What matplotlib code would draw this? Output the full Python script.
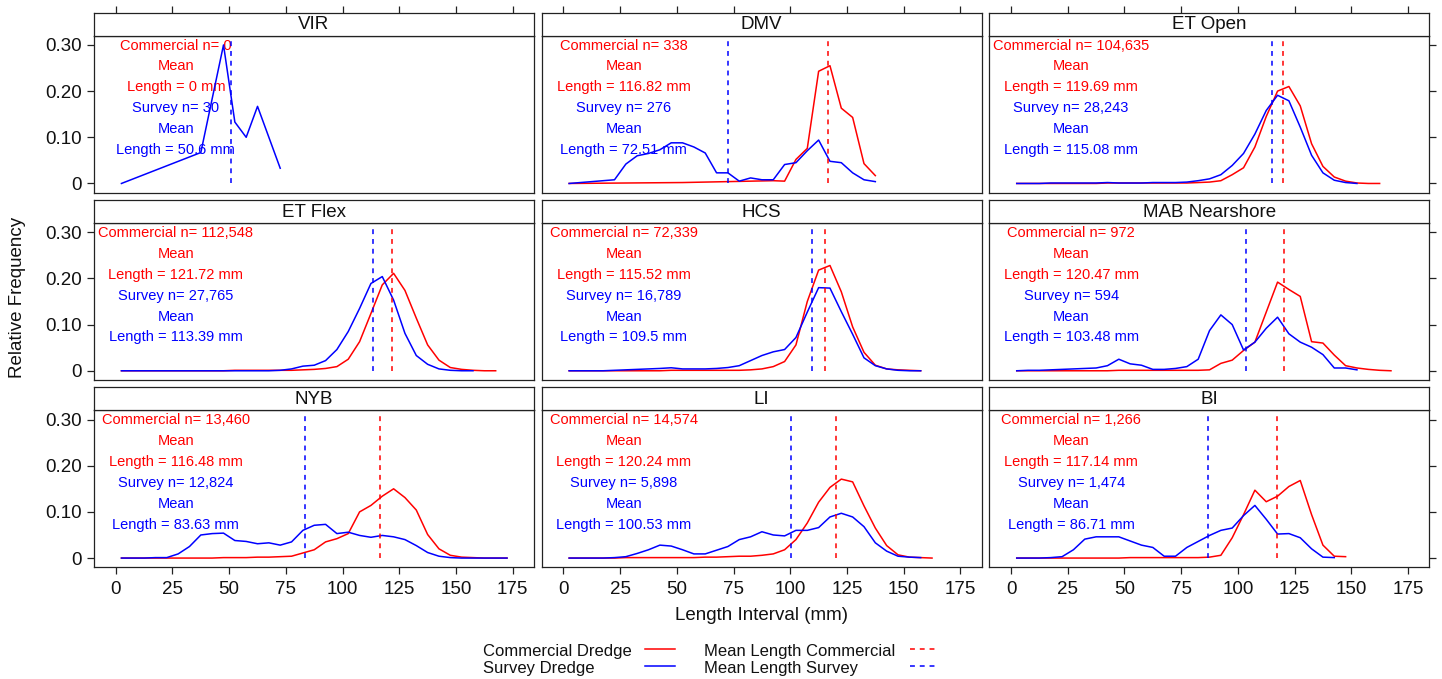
import matplotlib
matplotlib.use("Agg")
import matplotlib.pyplot as plt
from matplotlib.lines import Line2D

plt.rcParams['font.family'] = ['Liberation Sans', 'DejaVu Sans']

# ---- data ----
regions = ["VIR", "DMV", "ET Open", "ET Flex", "HCS", "MAB Nearshore", "NYB", "LI", "BI"]
comm_n = ["0", "338", "104,635", "112,548", "72,339", "972", "13,460", "14,574", "1,266"]
comm_mean = [0, 116.82, 119.69, 121.72, 115.52, 120.47, 116.48, 120.24, 117.14]
comm_mean_txt = ["0", "116.82", "119.69", "121.72", "115.52", "120.47", "116.48", "120.24", "117.14"]
surv_n = ["30", "276", "28,243", "27,765", "16,789", "594", "12,824", "5,898", "1,474"]
surv_mean = [50.6, 72.51, 115.08, 113.39, 109.5, 103.48, 83.63, 100.53, 86.71]
surv_mean_txt = ["50.6", "72.51", "115.08", "113.39", "109.5", "103.48", "83.63", "100.53", "86.71"]

# 5 mm bin midpoints
bins = [2.5, 7.5, 12.5, 17.5, 22.5, 27.5, 32.5, 37.5, 42.5, 47.5, 52.5, 57.5,
        62.5, 67.5, 72.5, 77.5, 82.5, 87.5, 92.5, 97.5, 102.5, 107.5, 112.5,
        117.5, 122.5, 127.5, 132.5, 137.5, 142.5, 147.5, 152.5, 157.5, 162.5,
        167.5, 172.5]

vir_comm_len = []
vir_comm_freq = []
vir_surv_len = [2.5, 37.5, 47.5, 52.5, 57.5, 62.5, 72.5]
vir_surv_freq = [0.0, 0.067, 0.300, 0.133, 0.100, 0.167, 0.033]

dmv_comm_len = [2.5, 52.5, 92.5, 97.5, 102.5, 107.5, 112.5, 117.5, 122.5, 127.5, 132.5, 137.5]
dmv_comm_freq = [0.0, 0.002, 0.006, 0.005, 0.052, 0.076, 0.243, 0.255, 0.163, 0.143, 0.043, 0.017]
dmv_surv_len = [2.5, 22.5, 27.5, 32.5, 37.5, 42.5, 47.5, 52.5, 57.5, 62.5, 67.5, 72.5, 77.5,
                82.5, 87.5, 92.5, 97.5, 102.5, 107.5, 112.5, 117.5, 122.5, 127.5, 132.5, 137.5]
dmv_surv_freq = [0.0, 0.008, 0.042, 0.060, 0.065, 0.073, 0.088, 0.088, 0.079, 0.066, 0.023, 0.023,
                 0.005, 0.012, 0.008, 0.008, 0.041, 0.045, 0.071, 0.094, 0.048, 0.045, 0.023,
                 0.008, 0.004]

eto_comm_freq = [0, 0, 0, 0, 0, 0, 0, 0, 0.001, 0.001, 0.001, 0.001, 0.001, 0.001, 0.001,
                 0.001, 0.002, 0.003, 0.006, 0.019, 0.034, 0.079, 0.145, 0.200, 0.210, 0.168,
                 0.086, 0.037, 0.014, 0.005, 0.001, 0.0, 0.0]
eto_surv_freq = [0, 0, 0, 0.001, 0.001, 0.001, 0.001, 0.001, 0.002, 0.001, 0.001, 0.001,
                 0.002, 0.002, 0.002, 0.003, 0.006, 0.010, 0.019, 0.039, 0.065, 0.107, 0.158,
                 0.191, 0.179, 0.122, 0.061, 0.023, 0.007, 0.002, 0.0]

etf_comm_freq = [0, 0, 0, 0, 0, 0, 0, 0, 0, 0, 0.001, 0.001, 0.001, 0.001, 0.001, 0.001,
                 0.002, 0.003, 0.005, 0.009, 0.025, 0.063, 0.124, 0.186, 0.211, 0.174, 0.114,
                 0.056, 0.023, 0.007, 0.003, 0.001, 0.0, 0.0]
etf_surv_freq = [0, 0, 0, 0, 0, 0, 0, 0, 0, 0, 0, 0, 0, 0, 0.001, 0.004, 0.010, 0.012, 0.022,
                 0.046, 0.085, 0.135, 0.189, 0.204, 0.153, 0.081, 0.033, 0.014, 0.004, 0.001,
                 0.0, 0.0]

hcs_comm_freq = [0, 0, 0, 0, 0, 0, 0, 0, 0, 0.001, 0.001, 0.001, 0.001, 0.001, 0.001, 0.001,
                 0.002, 0.004, 0.009, 0.020, 0.056, 0.150, 0.218, 0.228, 0.171, 0.095, 0.040,
                 0.012, 0.004, 0.002, 0.001, 0.0]
hcs_surv_freq = [0, 0, 0, 0, 0.001, 0.002, 0.003, 0.004, 0.005, 0.0065, 0.004, 0.004, 0.004,
                 0.005, 0.007, 0.011, 0.022, 0.033, 0.041, 0.046, 0.072, 0.127, 0.180, 0.179,
                 0.128, 0.079, 0.028, 0.011, 0.004, 0.001, 0.0, 0.0]

mab_comm_freq = [0, 0, 0, 0, 0, 0, 0, 0, 0, 0.001, 0.001, 0.001, 0.001, 0.001, 0.001, 0.001,
                 0.001, 0.002, 0.016, 0.023, 0.044, 0.062, 0.127, 0.192, 0.176, 0.161, 0.063,
                 0.060, 0.034, 0.011, 0.006, 0.003, 0.001, 0.0]
mab_surv_freq = [0, 0.001, 0.001, 0.002, 0.003, 0.004, 0.005, 0.006, 0.011, 0.025, 0.015,
                 0.012, 0.003, 0.003, 0.005, 0.009, 0.025, 0.087, 0.121, 0.100, 0.045, 0.062,
                 0.092, 0.116, 0.080, 0.062, 0.051, 0.035, 0.006, 0.006, 0.002]

nyb_comm_freq = [0, 0, 0, 0, 0, 0, 0, 0, 0, 0.001, 0.001, 0.001, 0.002, 0.002, 0.003, 0.004,
                 0.011, 0.018, 0.035, 0.042, 0.053, 0.100, 0.114, 0.134, 0.150, 0.131, 0.104,
                 0.051, 0.020, 0.006, 0.002, 0.001, 0.0, 0.0, 0.0]
nyb_surv_freq = [0, 0, 0, 0.001, 0.001, 0.009, 0.025, 0.050, 0.053, 0.054, 0.038, 0.036,
                 0.031, 0.033, 0.028, 0.035, 0.060, 0.071, 0.073, 0.053, 0.056, 0.049, 0.045,
                 0.049, 0.046, 0.040, 0.027, 0.012, 0.004, 0.001, 0.0, 0.0, 0.0, 0.0, 0.0]

li_comm_freq = [0, 0, 0, 0, 0, 0.001, 0.001, 0.001, 0.001, 0.001, 0.001, 0.001, 0.002, 0.002,
                0.003, 0.004, 0.004, 0.006, 0.009, 0.018, 0.040, 0.076, 0.121, 0.153, 0.171,
                0.165, 0.113, 0.065, 0.027, 0.007, 0.002, 0.001, 0.0]
li_surv_freq = [0, 0, 0, 0, 0.001, 0.003, 0.010, 0.018, 0.028, 0.026, 0.018, 0.009, 0.009,
                0.017, 0.025, 0.040, 0.046, 0.057, 0.050, 0.048, 0.060, 0.060, 0.066, 0.089,
                0.097, 0.089, 0.068, 0.033, 0.015, 0.004, 0.002, 0.001]

bi_comm_freq = [0, 0, 0, 0, 0, 0, 0, 0, 0, 0, 0.001, 0.001, 0.001, 0.001, 0.001, 0.001, 0.001,
                0.002, 0.006, 0.044, 0.094, 0.147, 0.122, 0.134, 0.155, 0.168, 0.094, 0.028,
                0.004, 0.003]
bi_surv_freq = [0, 0, 0, 0.001, 0.003, 0.018, 0.041, 0.046, 0.046, 0.046, 0.037, 0.028, 0.023,
                0.004, 0.004, 0.023, 0.036, 0.049, 0.060, 0.065, 0.092, 0.114, 0.084, 0.052,
                0.053, 0.044, 0.020, 0.002, 0.001]

comm_series = [
    (vir_comm_len, vir_comm_freq),
    (dmv_comm_len, dmv_comm_freq),
    (bins[:len(eto_comm_freq)], eto_comm_freq),
    (bins[:len(etf_comm_freq)], etf_comm_freq),
    (bins[:len(hcs_comm_freq)], hcs_comm_freq),
    (bins[:len(mab_comm_freq)], mab_comm_freq),
    (bins[:len(nyb_comm_freq)], nyb_comm_freq),
    (bins[:len(li_comm_freq)], li_comm_freq),
    (bins[:len(bi_comm_freq)], bi_comm_freq),
]
surv_series = [
    (vir_surv_len, vir_surv_freq),
    (dmv_surv_len, dmv_surv_freq),
    (bins[:len(eto_surv_freq)], eto_surv_freq),
    (bins[:len(etf_surv_freq)], etf_surv_freq),
    (bins[:len(hcs_surv_freq)], hcs_surv_freq),
    (bins[:len(mab_surv_freq)], mab_surv_freq),
    (bins[:len(nyb_surv_freq)], nyb_surv_freq),
    (bins[:len(li_surv_freq)], li_surv_freq),
    (bins[:len(bi_surv_freq)], bi_surv_freq),
]

xticks = [0, 25, 50, 75, 100, 125, 150, 175]
yticks = [0, 0.1, 0.2, 0.3]
ytick_labels = ["0", "0.10", "0.20", "0.30"]

# ---- layout (pixels) ----
W, H = 1442, 679
fig = plt.figure(figsize=(W / 100, H / 100), dpi=100)

col_left = [94, 541.7, 989.3]
col_w = 440
row_top = [12.7, 200, 387.3]
strip_h = 23
panel_h = 157

RED = "#FF0000"
BLUE = "#0000FF"
dash = (0, (3.2, 3.2))


def box(left, top, w, h):
    return [left / W, 1 - (top + h) / H, w / W, h / H]


for i, name in enumerate(regions):
    r, c = divmod(i, 3)
    ax = fig.add_axes(box(col_left[c], row_top[r] + strip_h, col_w, panel_h))
    st = fig.add_axes(box(col_left[c], row_top[r], col_w, strip_h))

    for a in (ax, st):
        a.set_xlim(-9.6, 184.4)
        for s in a.spines.values():
            s.set_linewidth(0.9)
            s.set_color("#222222")

    # strip
    st.set_ylim(0, 1)
    st.set_yticks([])
    st.text(0.5, 0.47, name, transform=st.transAxes, ha="center", va="center",
            fontsize=13.5, color="#111111")
    if r == 0:
        st.set_xticks(xticks)
        st.xaxis.tick_top()
        st.tick_params(axis="x", direction="out", length=5, width=0.9,
                       labeltop=False, color="#222222")
    else:
        st.set_xticks([])

    # curves
    cx, cy = comm_series[i]
    sx, sy = surv_series[i]
    if len(cx) > 0:
        ax.plot(cx, cy, color=RED, lw=1.1, zorder=3)
    ax.plot(sx, sy, color=BLUE, lw=1.1, zorder=3)
    if len(cx) > 0:
        ax.plot([comm_mean[i], comm_mean[i]], [0, 0.311], color=RED, lw=1.1, ls=dash, zorder=3)
    ax.plot([surv_mean[i], surv_mean[i]], [0, 0.311], color=BLUE, lw=1.1, ls=dash, zorder=3)

    # annotations
    lines = [("Commercial n= " + comm_n[i], RED), ("Mean", RED),
             ("Length = " + comm_mean_txt[i] + " mm", RED),
             ("Survey n= " + surv_n[i], BLUE), ("Mean", BLUE),
             ("Length = " + surv_mean_txt[i] + " mm", BLUE)]
    for k, (txt, col) in enumerate(lines):
        ax.text(26.5, 0.290 - 0.0453 * k, txt, color=col, fontsize=10.5,
                ha="center", va="baseline", zorder=2)

    ax.set_ylim(-0.02, 0.32)
    ax.set_xticks(xticks if r == 2 else [])
    ax.tick_params(axis="x", direction="out", length=5, width=0.9, labelsize=13.5,
                   pad=5, color="#222222", labelcolor="#111111")
    if c == 0:
        ax.set_yticks(yticks)
        ax.set_yticklabels(ytick_labels)
        ax.tick_params(axis="y", direction="out", length=5, width=0.9, labelsize=13.5,
                       pad=4, color="#222222", labelcolor="#111111")
    elif c == 2:
        ax.set_yticks(yticks)
        ax.yaxis.tick_right()
        ax.tick_params(axis="y", direction="out", length=5, width=0.9,
                       labelright=False, color="#222222")
    else:
        ax.set_yticks([])

# axis titles
fig.text(18 / W, 1 - 297 / H, "Relative Frequency", rotation=90, ha="center",
         va="center", fontsize=13.5, color="#111111")
fig.text(761.5 / W, 1 - 615 / H, "Length Interval (mm)", ha="center", va="center",
         fontsize=13.5, color="#111111")

# key
key = [("Commercial Dredge", 482.7, 645, 675, 649.3, RED, "-"),
       ("Survey Dredge", 482.7, 645, 675, 666, BLUE, "-"),
       ("Mean Length Commercial", 704.3, 910, 937, 649.3, RED, dash),
       ("Mean Length Survey", 704.3, 910, 937, 666, BLUE, dash)]
for label, tx, x1, x2, ly, col, ls in key:
    fig.text(tx / W, 1 - (ly + 6.5) / H, label, ha="left", va="baseline",
             fontsize=12, color="#111111")
    fig.add_artist(Line2D([x1 / W, x2 / W], [1 - ly / H, 1 - ly / H],
                          transform=fig.transFigure, color=col, lw=1.1, ls=ls))

fig.savefig("out.png", dpi=100)
